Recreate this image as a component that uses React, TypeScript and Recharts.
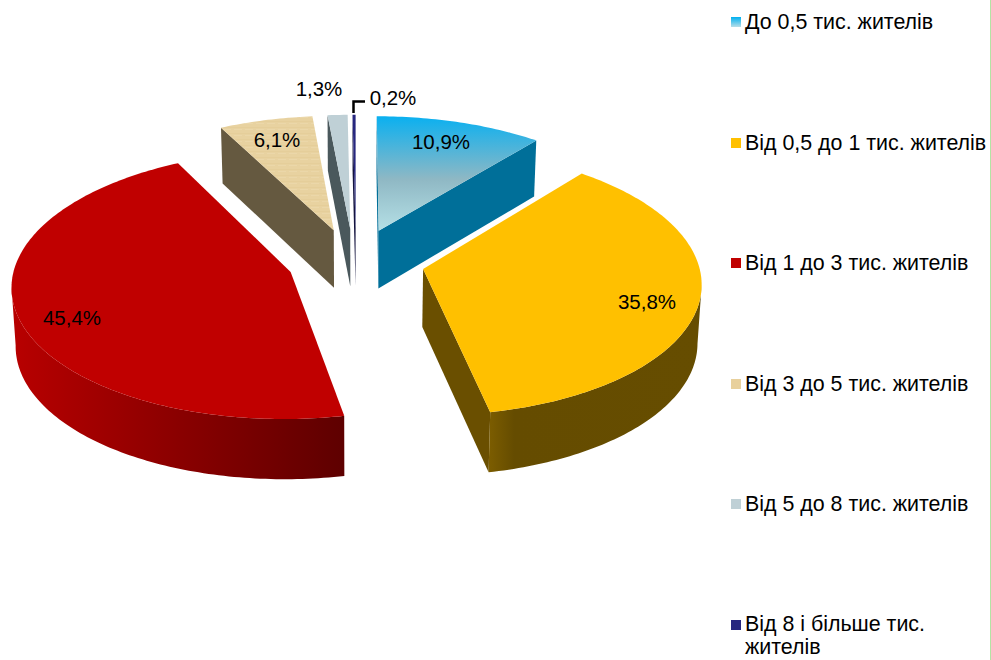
import React from 'react';
import { PieChart, Pie, Legend } from 'recharts';

const categories = [
    'До 0,5 тис. жителів',
    'Від 0,5 до 1 тис. жителів',
    'Від 1 до 3 тис. жителів',
    'Від 3 до 5 тис. жителів',
    'Від 5 до 8 тис. жителів',
    'Від 8 і більше тис. жителів',
];
const shares = [10.9, 35.8, 45.4, 6.1, 1.3, 0.2];

const topFills = ['url(#blueTop)', '#FFC000', '#C00000', 'url(#tanTop)', '#BFD0D6', '#27277F'];
const cutFills = ['#006F99', '#6A4F00', '#600000', '#655940', '#4A585C', '#14143F'];
const rimFills = ['#006F99', 'url(#yellowRim)', 'url(#redRim)', '#655940', '#4A585C', '#14143F'];
const swatches = ['linear-gradient(#00B0F0, #B7DEE8)', '#FFC000', '#C00000', '#E8D09C', '#BFD0D6', '#27277F'];
// where the percentage texts sit
const labelSpots = [[441, 141], [647, 301], [72, 317], [277, 139], [319, 88], [393, 97]];
// small sideways shift of the thin slices, in pie radii
const sideNudge = [0, 0, 0, -0.012, -0.008, 0];

const EXPLODE = 0.25;
const TILT = 0.476;
const PERSPECTIVE = 0.095;
const DEPTH = 58;
const FONT = '"Liberation Sans", Arial, sans-serif';

const formatShare = (v: number) => v.toFixed(1).replace('.', ',') + '%';

function Slice(props: any) {
    const { cx, cy, outerRadius, startAngle, endAngle, name } = props;
    const i = categories.indexOf(name);
    const from = 90 - startAngle;
    const to = 90 - endAngle;
    const mid = ((from + to) / 2) * Math.PI / 180;
    const offU = EXPLODE * Math.sin(mid) + sideNudge[i];
    const offV = EXPLODE * Math.cos(mid);

    // disc coordinates to screen, far side is drawn smaller
    const project = (u: number, v: number) => {
        const f = 1 / (1 + PERSPECTIVE * v);
        return { x: cx + outerRadius * u * f, y: cy - outerRadius * TILT * v * f, v };
    };
    const lower = (p: { x: number; y: number; v: number }) => ({
        x: cx + (p.x - cx) * 0.988,
        y: p.y + DEPTH - 2 * p.v,
        v: p.v,
    });

    const apex = project(offU, offV);
    const arc = [];
    const steps = Math.max(2, Math.ceil(to - from));
    for (let s = 0; s <= steps; s++) {
        const a = (from + ((to - from) * s) / steps) * Math.PI / 180;
        arc.push(project(offU + Math.sin(a), offV + Math.cos(a)));
    }

    const toPath = (pts: any[]) => pts.map((p, n) => `${n ? 'L' : 'M'}${p.x.toFixed(2)} ${p.y.toFixed(2)}`).join(' ') + ' Z';
    const first = arc[0];
    const last = arc[arc.length - 1];

    // a face hangs below an outline piece only when the outline runs leftwards here
    const faces = [];
    if (first.x < apex.x) faces.push([apex, first, lower(first), lower(apex)]);
    if (apex.x < last.x) faces.push([last, apex, lower(apex), lower(last)]);

    const rim = [];
    for (let n = 1; n < arc.length; n++) {
        if (arc[n].x < arc[n - 1].x) {
            if (!rim.length) rim.push(arc[n - 1]);
            rim.push(arc[n]);
        }
    }
    const rimShape = rim.length ? [...rim, ...rim.slice().reverse().map(lower)] : null;

    return (
        <g>
            {faces.map((f, n) => <path key={n} d={toPath(f)} fill={cutFills[i]} />)}
            {rimShape && <path d={toPath(rimShape)} fill={rimFills[i]} />}
            <path d={toPath([apex, ...arc])} fill={topFills[i]} />
        </g>
    );
}

function ShareLabel(props: any) {
    const { index, value } = props;
    const [x, y] = labelSpots[index];
    return (
        <g>
            {index === 5 && <path d="M365 101.5 H353.5 V113" fill="none" stroke="#000" strokeWidth={2.5} />}
            <text x={x} y={y} textAnchor="middle" dominantBaseline="central" fontFamily={FONT} fontSize={20.5} fill="#000">
                {formatShare(value)}
            </text>
        </g>
    );
}

function LegendList({ payload }: any) {
    return (
        <div style={{ fontFamily: FONT, fontSize: 21.4, lineHeight: '26px', color: '#000' }}>
            {(payload || []).map((item: any, i: number) => {
                // the two-line entry runs up against the bottom of the page
                const wrapped = i === payload.length - 1;
                return (
                    <div
                        key={item.value}
                        style={{
                            height: wrapped ? 48 : 120.5,
                            position: 'relative',
                            paddingLeft: 14,
                            paddingTop: wrapped ? 1 : 0,
                            lineHeight: wrapped ? '23.5px' : '26px',
                        }}
                    >
                        <span style={{ position: 'absolute', left: 0, top: 8, width: 10, height: 10, background: swatches[i] }} />
                        {item.value}
                    </div>
                );
            })}
        </div>
    );
}

export default function App() {
    const data = categories.map((name, i) => ({ name, value: shares[i], fill: swatches[i] }));

    return (
        <div style={{ position: 'absolute', left: 0, top: 0, width: 991, height: 660, background: '#fff', overflow: 'hidden' }}>
            <PieChart width={991} height={660} margin={{ top: 0, right: 0, bottom: 0, left: 0 }}>
                <defs>
                    <linearGradient id="blueTop" x1="0" y1="0" x2="0" y2="1">
                        <stop offset="0%" stopColor="#0AB0F0" />
                        <stop offset="55%" stopColor="#8FB8C4" />
                        <stop offset="100%" stopColor="#B5E0E6" />
                    </linearGradient>
                    <pattern id="tanTop" width="11" height="6" patternUnits="userSpaceOnUse">
                        <rect width="11" height="6" fill="#E8D2A0" />
                        <rect y="1" width="11" height="1" fill="#E5CE9A" />
                        <rect x="3" y="3" width="8" height="1" fill="#EBD7A9" />
                    </pattern>
                    <linearGradient id="yellowRim" x1="0" y1="0" x2="1" y2="0">
                        <stop offset="0%" stopColor="#7C5D00" />
                        <stop offset="12%" stopColor="#654C00" />
                        <stop offset="100%" stopColor="#664D00" />
                    </linearGradient>
                    <linearGradient id="redRim" x1="0" y1="0" x2="1" y2="0">
                        <stop offset="0%" stopColor="#B80000" />
                        <stop offset="50%" stopColor="#8A0000" />
                        <stop offset="100%" stopColor="#5E0000" />
                    </linearGradient>
                </defs>
                <Pie
                    data={data}
                    dataKey="value"
                    nameKey="name"
                    cx={356}
                    cy={261}
                    outerRadius={275}
                    startAngle={90}
                    endAngle={-270}
                    stroke="none"
                    shape={(p: any) => <Slice {...p} />}
                    label={(p: any) => <ShareLabel {...p} />}
                    labelLine={false}
                    isAnimationActive={false}
                />
                <Legend
                    layout="vertical"
                    align="right"
                    verticalAlign="top"
                    itemSorter={null}
                    content={(p: any) => <LegendList payload={p.payload} />}
                    wrapperStyle={{ left: 731, top: 9, width: 260, right: 'auto', margin: 0 }}
                />
            </PieChart>
            <div style={{ position: 'absolute', left: 990, top: 0, width: 1, height: 660, background: '#B4E4A4' }} />
        </div>
    );
}
